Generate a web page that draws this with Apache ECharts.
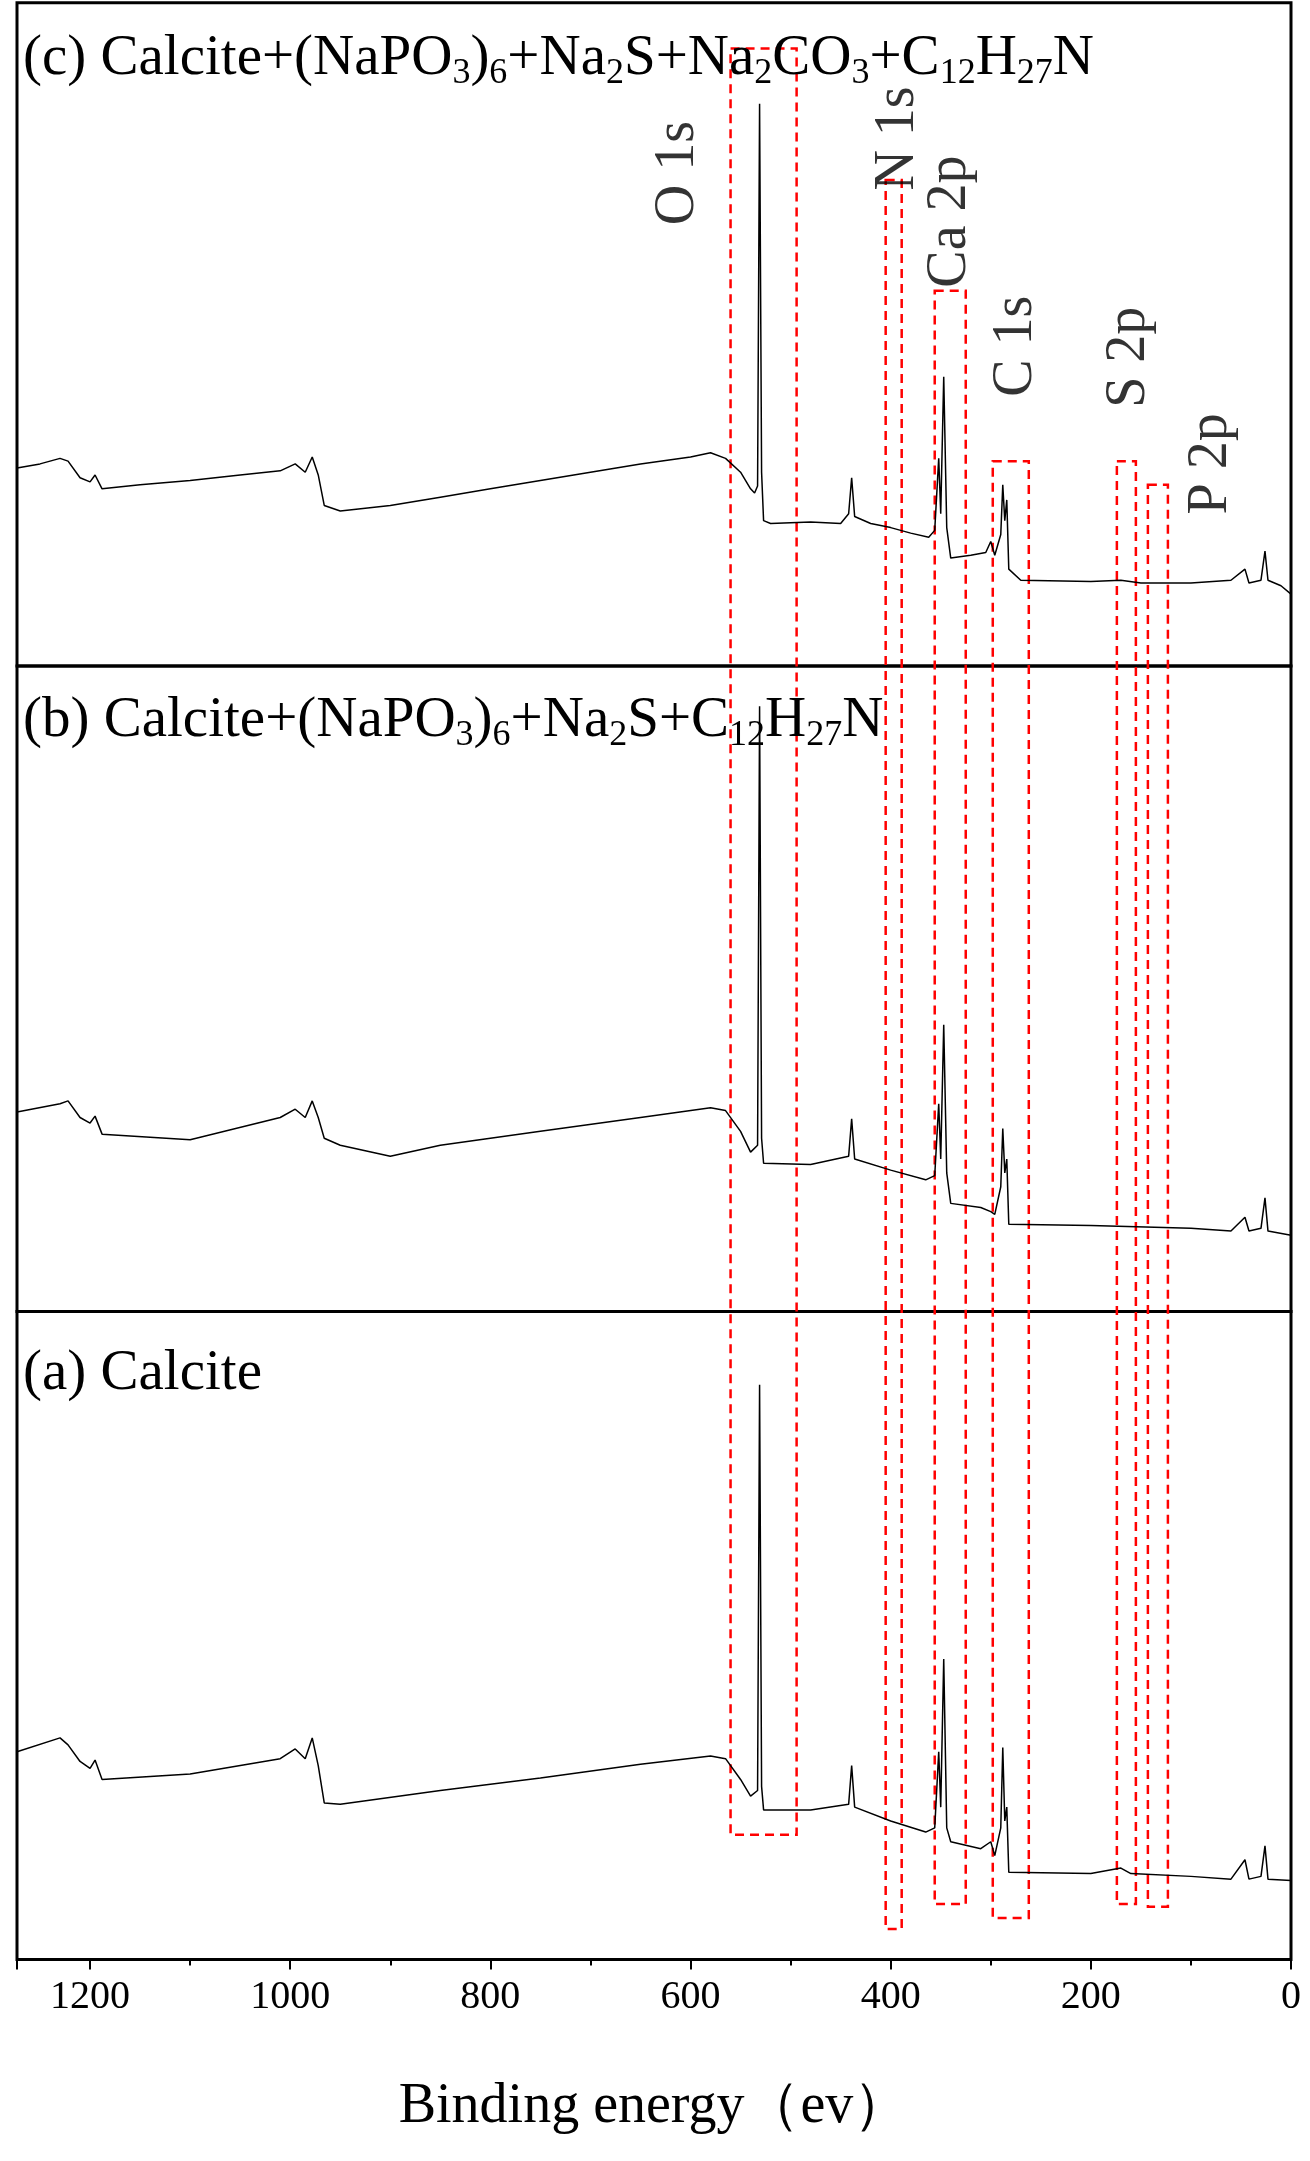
<!DOCTYPE html><html><head><meta charset="utf-8"><script src="https://cdn.jsdelivr.net/npm/echarts@6/dist/echarts.min.js"></script>
<style>body{margin:0}#c{width:1310px;height:2161px;background:#fff}</style></head><body><div id="c"></div><script>
const S=1310/946;
const xTicks=[0,200,400,600,800,1000,1200];
const panelC=[[1273,143],[1250,146],[1230,150],[1222,148],[1210,136],[1200,133],[1195,138],[1188,128],[1150,131],[1100,134],[1050,138],[1010,141],[995,146],[985,140],[978,151],[972,138],[966,116],[950,112],[900,116],[850,122],[800,128],[750,134],[700,140],[650,146],[600,151],[580,154],[565,150],[550,140],[540,128],[536,125],[533,130],[531,406],[529,140],[527,105],[520,103],[480,104],[450,103],[442,110],[439,136],[436,108],[420,103],[400,100],[380,96],[362,93],[356,98],[352,150],[350,110],[347,209],[344,100],[340,78],[320,80],[305,82],[300,90],[296,80],[290,95],[288,131],[286,105],[284,120],[282,70],[270,62],[200,61],[170,62],[150,60],[100,60],[60,62],[46,70],[42,60],[30,62],[26,83],[23,62],[10,58],[0,52]];
const panelB=[[1273,144],[1230,150],[1222,152],[1210,140],[1200,136],[1195,141],[1188,128],[1100,124],[1010,140],[995,146],[985,140],[978,152],[972,140],[966,125],[950,120],[900,112],[850,120],[750,130],[650,140],[580,147],[565,145],[550,130],[540,115],[533,120],[531,437],[529,125],[527,107],[480,106],[442,112],[439,139],[436,110],[400,102],[365,95],[356,98],[352,150],[350,110],[347,207],[344,100],[340,78],[310,75],[300,72],[296,70],[290,90],[288,132],[286,100],[284,110],[282,63],[200,62],[100,60],[60,58],[46,68],[42,58],[30,60],[26,82],[23,58],[0,55]];
const panelA=[[1273,150],[1230,160],[1222,155],[1210,143],[1200,138],[1195,144],[1188,130],[1100,134],[1010,145],[995,152],[985,145],[978,160],[972,140],[966,113],[950,112],[850,122],[750,131],[650,141],[580,147],[565,145],[550,130],[540,118],[533,122],[531,415],[529,125],[527,108],[480,108],[442,112],[439,140],[436,110],[400,100],[365,92],[356,95],[352,150],[350,110],[347,217],[344,95],[340,85],[310,80],[300,85],[296,75],[290,95],[288,153],[286,100],[284,110],[282,63],[200,62],[170,66],[160,62],[100,60],[60,58],[46,72],[42,58],[30,60],[26,82],[23,58],[0,57]];
const boxes=[[560,494,35,1325],[405,389,130,1393],[356,325,210,1375],[298,262,333,1385],[174,155,333,1375],[143,123,350,1377]];
const peakLabels=[['O 1s',612,125],['N 1s',392,100],['Ca 2p',340,160],['C 1s',274,250],['S 2p',162,258],['P 2p',80,335]];
const titles=['(c) Calcite+(NaPO{s|3}){s|6}+Na{s|2}S+Na{s|2}CO{s|3}+C{s|12}H{s|27}N','(b) Calcite+(NaPO{s|3}){s|6}+Na{s|2}S+C{s|12}H{s|27}N','(a) Calcite'];
const panels=[[2,479,panelC],[481,466,panelB],[947,468,panelA]];
const ff='Liberation Serif';
const grids=[],xA=[],yA=[],series=[];
panels.forEach((p,i)=>{
 grids.push({left:17,right:19,top:p[0]*S,height:p[1]*S,show:true,borderColor:'#000',borderWidth:3});
 const last=i===2;
 xA.push({gridIndex:i,type:'value',min:0,max:1273,inverse:true,interval:200,
  axisLine:{show:false},splitLine:{show:false},
  axisTick:{show:last,length:10,lineStyle:{width:2,color:'#000'}},
  minorTick:{show:last,splitNumber:2,length:6,lineStyle:{width:2,color:'#000'}},
  axisLabel:{show:last,fontFamily:ff,fontSize:40,color:'#000',margin:18,formatter:v=>String(v),customValues:xTicks},
  name:last?'Binding energy（ev）':'',nameLocation:'middle',nameGap:120,nameTextStyle:{fontFamily:ff,fontSize:56,color:'#000'}});
 yA.push({gridIndex:i,type:'value',min:0,max:p[1],show:false});
 series.push({type:'line',xAxisIndex:i,yAxisIndex:i,data:p[2],showSymbol:false,lineStyle:{color:'#000',width:1.5},silent:true});
});
grids.push({left:17,right:19,top:0,height:1415*S,show:false});
xA.push({gridIndex:3,type:'value',min:0,max:1273,inverse:true,show:false});
yA.push({gridIndex:3,type:'value',min:0,max:1415,inverse:true,show:false});
series.push({type:'scatter',xAxisIndex:3,yAxisIndex:3,symbolSize:0,data:peakLabels.map(l=>({value:[l[1],l[2]],label:{show:true,formatter:l[0],rotate:90,fontFamily:ff,fontSize:56,color:'#000'}})),
 markArea:{silent:true,itemStyle:{color:'rgba(0,0,0,0)',borderColor:'#f00',borderWidth:2.5,borderType:[9,6]},data:boxes.map(b=>[{coord:[b[0],b[2]]},{coord:[b[1],b[3]]}])}});
const option={animation:false,grid:grids,xAxis:xA,yAxis:yA,series,
 title:titles.map((t,i)=>({text:t,left:18,top:[16,494,968][i]*S,textStyle:{fontFamily:ff,fontSize:57,fontWeight:'normal',color:'#000',rich:{s:{fontFamily:ff,fontSize:36,verticalAlign:'bottom',padding:[28,0,0,0],color:'#000'}}}}))};
echarts.init(document.getElementById('c')).setOption(option);
</script></body></html>
